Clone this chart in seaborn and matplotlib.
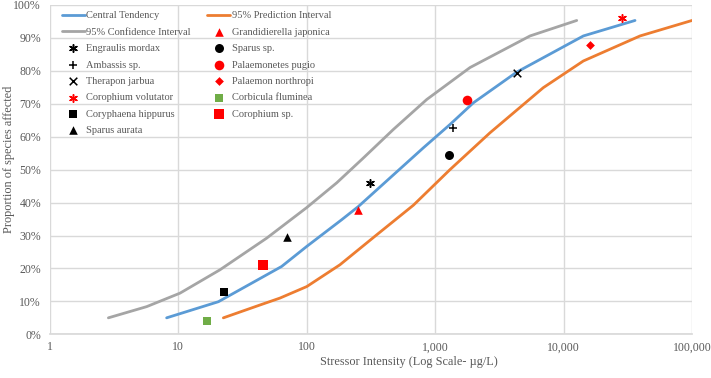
import matplotlib
matplotlib.use("Agg")
import matplotlib.pyplot as plt
import matplotlib.ticker as mticker
import numpy as np
import pandas as pd
import seaborn as sns

# curves (x in ug/L, y in proportion)
central_x = [8.1, 20.5, 63.7, 100, 187, 252, 445, 807, 1303, 1983, 4305, 14250, 35980]
central_y = [0.05, 0.099, 0.206, 0.267, 0.348, 0.388, 0.475, 0.566, 0.637, 0.703, 0.796, 0.906, 0.953]

conf_x = [2.85, 5.66, 10.3, 21.1, 48.7, 100, 171, 275, 472, 859, 1866, 5475, 12650]
conf_y = [0.05, 0.084, 0.125, 0.196, 0.292, 0.385, 0.46, 0.535, 0.622, 0.713, 0.81, 0.906, 0.953]

pred_x = [22.4, 43.2, 61.8, 100, 181, 350, 676, 1303, 2672, 6950, 14250, 39380, 100000]
pred_y = [0.05, 0.089, 0.11, 0.145, 0.211, 0.302, 0.392, 0.50, 0.612, 0.749, 0.83, 0.906, 0.953]

species = ["Engraulis mordax", "Ambassis sp.", "Therapon jarbua", "Corophium volutator",
           "Coryphaena hippurus", "Sparus aurata", "Grandidierella japonica", "Sparus sp.",
           "Palaemonetes pugio", "Palaemon northropi", "Corbicula fluminea", "Corophium sp."]
species_x = [311, 1367, 4305, 28660, 22.7, 70.5, 252, 1270, 1758, 16070, 16.7, 45.4]
species_y = [0.459, 0.627, 0.794, 0.962, 0.127, 0.294, 0.378, 0.545, 0.711, 0.878, 0.041, 0.209]

star = (6, 2, 0)
marker_style = {
    "Engraulis mordax": (star, "black", 30),
    "Ambassis sp.": ("+", "black", 40),
    "Therapon jarbua": ("x", "black", 30),
    "Corophium volutator": (star, "red", 30),
    "Coryphaena hippurus": ("s", "black", 38),
    "Sparus aurata": ("^", "black", 38),
    "Grandidierella japonica": ("^", "red", 38),
    "Sparus sp.": ("o", "black", 42),
    "Palaemonetes pugio": ("o", "red", 48),
    "Palaemon northropi": ("D", "red", 20),
    "Corbicula fluminea": ("s", "#70AD47", 40),
    "Corophium sp.": ("s", "red", 44),
}

sns.set_theme(style="white")
plt.rcParams["font.family"] = ["Liberation Serif", "DejaVu Serif"]

fig = plt.figure(figsize=(7.11, 3.78), dpi=100)
ax = fig.add_axes([0.0703, 0.1156, 0.9030, 0.8712])

for name, xs, ys, col in [("Central Tendency", central_x, central_y, "#5B9BD5"),
                          ("95% Confidence Interval", conf_x, conf_y, "#A5A5A5"),
                          ("95% Prediction Interval", pred_x, pred_y, "#ED7D31")]:
    df = pd.DataFrame({"x": xs, "y": ys})
    sns.lineplot(data=df, x="x", y="y", ax=ax, color=col, linewidth=2, sort=False,
                 estimator=None, label=name)

for sp, xv, yv in zip(species, species_x, species_y):
    m, c, s = marker_style[sp]
    df = pd.DataFrame({"x": [xv], "y": [yv]})
    sns.scatterplot(data=df, x="x", y="y", ax=ax, marker=m, color=c, s=s,
                    linewidth=1.1 if m in ("+", "x", star) else 0, edgecolor=c, label=sp, zorder=5)

ax.set_xscale("log")
ax.set_xlim(1, 100000)
ax.set_ylim(0, 1.0)
ax.set_xticks([1, 10, 100, 1000, 10000, 100000])
ax.xaxis.set_major_formatter(mticker.FuncFormatter(lambda v, p: f"{v:,.0f}"))
ax.xaxis.set_minor_locator(mticker.NullLocator())
ax.set_yticks(np.arange(0, 1.01, 0.1))
ax.yaxis.set_major_formatter(mticker.FuncFormatter(lambda v, p: f"{v*100:.0f}%"))

ax.grid(True, color="#D9D9D9", linewidth=1)
for s in ["top", "right", "left"]:
    ax.spines[s].set_visible(False)
ax.spines["bottom"].set_color("#D9D9D9")
ax.tick_params(axis="y", labelsize=8.5, labelcolor="#595959", length=0, pad=6.5)
ax.tick_params(axis="x", labelsize=8.5, labelcolor="#595959", length=0, pad=5)

ax.set_xlabel("Stressor Intensity (Log Scale- µg/L)", fontsize=8.8, color="#595959")
ax.set_ylabel("Proportion of species affected", fontsize=8.8, color="#595959")
ax.xaxis.set_label_coords(0.559, -0.084)
ax.yaxis.set_label_coords(-0.064, 0.53)
ax.xaxis.label.set_va("center")
ax.yaxis.label.set_va("center")

h, l = ax.get_legend_handles_labels()
order = ["Central Tendency", "95% Confidence Interval"] + species[:6] + \
        ["95% Prediction Interval"] + species[6:]
hl = dict(zip(l, h))
ax.legend([hl[k] for k in order], order, loc="upper left", bbox_to_anchor=(0.0117, 0.994),
          ncol=2, frameon=False, fontsize=7.5, labelcolor="#595959",
          handlelength=2.2, handletextpad=0.15, columnspacing=1.6, labelspacing=0.68,
          borderaxespad=0, borderpad=0.4)

fig.savefig("out.png", dpi=100)
